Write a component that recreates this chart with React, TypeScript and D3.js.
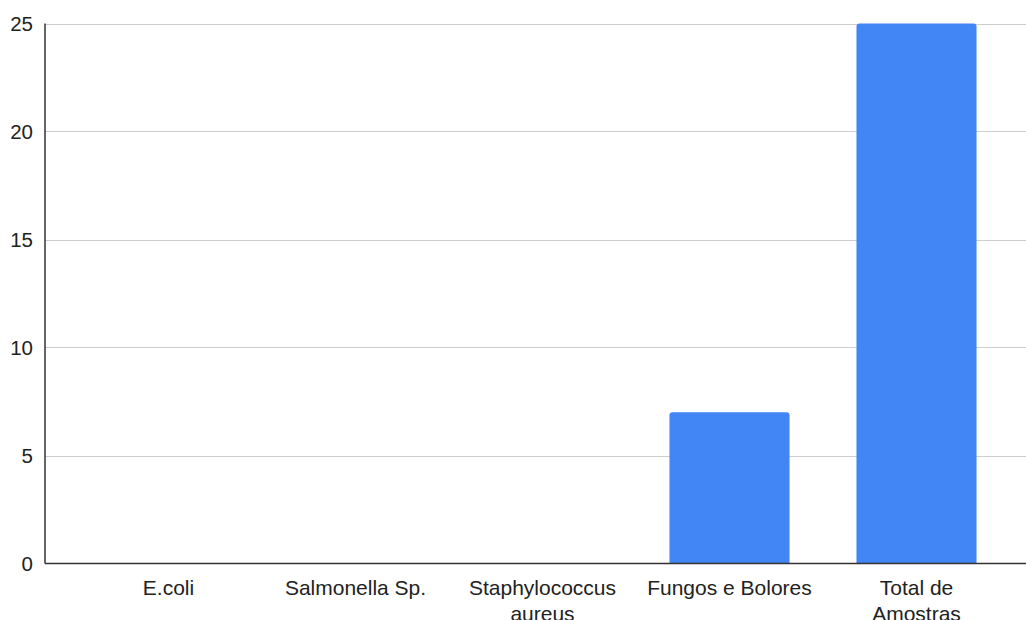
import React from "react";
import * as d3 from "d3";

const categories: string[][] = [
  ["E.coli"],
  ["Salmonella Sp."],
  ["Staphylococcus", "aureus"],
  ["Fungos e Bolores"],
  ["Total de", "Amostras"],
];
const values: number[] = [0, 0, 0, 7, 25];
const yTicks: number[] = [0, 5, 10, 15, 20, 25];

export default function App() {
  const W = 1026, H = 620;
  const left = 45, right = 1026, top = 23.5, bottom = 563.5;
  const keys = categories.map((c) => c.join(" "));
  const x = d3.scaleBand<string>().domain(keys).range([75, 1010]).paddingInner(0.358).paddingOuter(0.179);
  const y = d3.scaleLinear().domain([0, 25]).range([bottom, top]);
  const font = "Arial, 'Liberation Sans', sans-serif";
  const r = 3;
  return (
    <svg width={W} height={H} style={{ position: "absolute", left: 0, top: 0, background: "#fff" }}>
      {yTicks.map((t) => (
        <g key={t}>
          {t > 0 && <line x1={left} x2={right} y1={Math.round(y(t)) + 0.5} y2={Math.round(y(t)) + 0.5} stroke="#cccccc" strokeWidth={1} />}
          <text x={33} y={y(t)} dy="0.35em" textAnchor="end" fontFamily={font} fontSize={20.5} fill="#222">{t}</text>
        </g>
      ))}
      {keys.map((k, i) => {
        const v = values[i];
        if (v <= 0) return null;
        const x0 = x(k)!, w = x.bandwidth();
        const y0 = y(v), y1 = y(0);
        const path = `M${x0},${y1}V${y0 + r}Q${x0},${y0} ${x0 + r},${y0}H${x0 + w - r}Q${x0 + w},${y0} ${x0 + w},${y0 + r}V${y1}Z`;
        return <path key={k} d={path} fill="#4285F4" />;
      })}
      <line x1={left} x2={left} y1={top} y2={bottom} stroke="#333" strokeWidth={1.5} />
      <line x1={left} x2={right} y1={bottom} y2={bottom} stroke="#333" strokeWidth={1.5} />
      {categories.map((lines, i) => (
        <text key={i} x={x(keys[i])! + x.bandwidth() / 2} y={595} textAnchor="middle" fontFamily={font} fontSize={21} fill="#222">
          {lines.map((l, j) => (
            <tspan key={j} x={x(keys[i])! + x.bandwidth() / 2} dy={j === 0 ? 0 : 26}>{l}</tspan>
          ))}
        </text>
      ))}
    </svg>
  );
}
